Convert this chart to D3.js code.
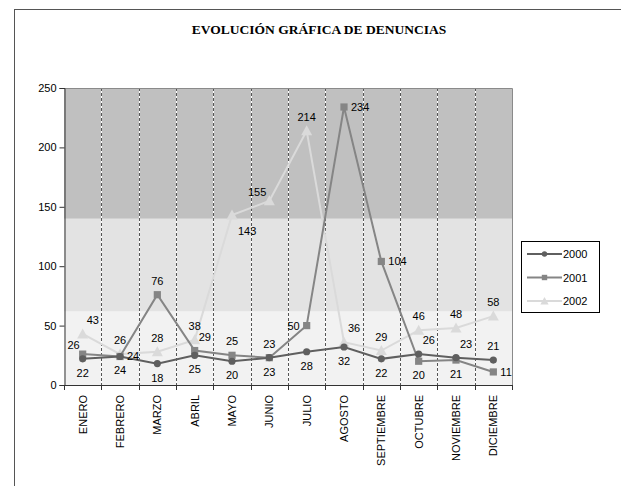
<!DOCTYPE html>
<html>
<head>
<meta charset="utf-8">
<script src="https://cdn.jsdelivr.net/npm/d3@7"></script>
<style>
  body { margin: 0; background: #fff; }
  text { font-family: "Liberation Sans", Arial, sans-serif; }
</style>
</head>
<body>
<svg id="chart" width="621" height="486"></svg>
<script>
// data
var months = ["ENERO", "FEBRERO", "MARZO", "ABRIL", "MAYO", "JUNIO", "JULIO",
              "AGOSTO", "SEPTIEMBRE", "OCTUBRE", "NOVIEMBRE", "DICIEMBRE"];
var years = ["2000", "2001", "2002"];
var v2000 = [22, 24, 18, 25, 20, 23, 28, 32, 22, 26, 23, 21];
var v2001 = [26, 24, 76, 29, 25, 23, 50, 234, 104, 20, 21, 11];
var v2002 = [43, 26, 28, 38, 143, 155, 214, 36, 29, 46, 48, 58];
var yTicks = [0, 50, 100, 150, 200, 250];
var bands = [[0, 62], [62, 140], [140, 250]];

// where each data label sits relative to its point
var place2000 = ["b", "b", "b", "b", "b", "b", "b", "b", "b", "tr", "tr", "t"];
var place2001 = ["tl", "r", "t", "tr", "t", "t", "l", "r", "r", "b", "b", "r"];
var place2002 = ["tr", "t", "t", "t", "br", "tl", "t", "tr", "t", "t", "t", "t"];

var series = [
  {name: years[0], values: v2000, place: place2000, color: "#5f5f5f", shape: "circle"},
  {name: years[1], values: v2001, place: place2001, color: "#858585", shape: "square"},
  {name: years[2], values: v2002, place: place2002, color: "#dadada", shape: "triangle"}
];

var svg = d3.select("#chart");
var pLeft = 64, pRight = 512, pTop = 88, pBottom = 385;

// chart frame (runs off the picture on right and bottom)
svg.append("rect").attr("x", 14.5).attr("y", 9.5).attr("width", 700).attr("height", 600)
  .attr("fill", "none").attr("stroke", "#555").attr("stroke-width", 1);

svg.append("text").attr("x", 319).attr("y", 34).attr("text-anchor", "middle")
  .style("font-family", "'Liberation Serif', 'Times New Roman', serif")
  .style("font-weight", "bold").style("font-size", "13.5px")
  .text("EVOLUCIÓN GRÁFICA DE DENUNCIAS");

var x = d3.scaleBand().domain(months).range([pLeft, pRight]);
var y = d3.scaleLinear().domain([0, 250]).range([pBottom, pTop]);

var bandColors = ["#f2f2f2", "#e3e3e3", "#c0c0c0"];
svg.selectAll("rect.band").data(bands).enter().append("rect")
  .attr("class", "band")
  .attr("x", pLeft).attr("width", pRight - pLeft)
  .attr("y", function(d) { return y(d[1]); })
  .attr("height", function(d) { return y(d[0]) - y(d[1]); })
  .attr("fill", function(d, i) { return bandColors[i]; });

// dashed vertical grid at category boundaries
var bounds = months.slice(1).map(function(m) { return Math.round(x(m)) + 0.5; });
svg.selectAll("line.gw").data(bounds).enter().append("line")
  .attr("x1", function(d) { return d; }).attr("x2", function(d) { return d; })
  .attr("y1", pTop).attr("y2", pBottom).attr("stroke", "#fff").attr("stroke-width", 1);
svg.selectAll("line.gd").data(bounds).enter().append("line")
  .attr("x1", function(d) { return d; }).attr("x2", function(d) { return d; })
  .attr("y1", pTop).attr("y2", pBottom).attr("stroke", "#555").attr("stroke-width", 1)
  .attr("stroke-dasharray", "3,2");

// plot area border top/right
svg.append("path").attr("d", "M" + pLeft + "," + (pTop + 0.5) + "H" + (pRight + 0.5) + "V" + pBottom)
  .attr("fill", "none").attr("stroke", "#8a8a8a").attr("stroke-width", 1);

// axes
var yAxis = d3.axisLeft(y).tickValues(yTicks).tickSize(5).tickPadding(3);
var gy = svg.append("g").attr("transform", "translate(" + (pLeft + 0.5) + ",0)").call(yAxis);
gy.selectAll("text").style("font-size", "11px").attr("fill", "#000");
gy.selectAll("line, path").attr("stroke", "#333");

var tickPos = [pLeft].concat(bounds.map(function(d) { return d - 0.5; })).concat([pRight]);
svg.append("line").attr("x1", pLeft).attr("x2", pRight + 1).attr("y1", pBottom + 0.5).attr("y2", pBottom + 0.5)
  .attr("stroke", "#333");
svg.selectAll("line.xt").data(tickPos).enter().append("line")
  .attr("x1", function(d) { return d + 0.5; }).attr("x2", function(d) { return d + 0.5; })
  .attr("y1", pBottom).attr("y2", pBottom + 5).attr("stroke", "#333");

svg.selectAll("text.xl").data(months).enter().append("text")
  .attr("transform", function(d) {
    return "translate(" + (x(d) + x.bandwidth() / 2 + 4) + "," + (pBottom + 10) + ") rotate(-90)";
  })
  .attr("text-anchor", "end").style("font-size", "11px").text(function(d) { return d; });

// lines and markers
var line = d3.line()
  .x(function(d, i) { return x(months[i]) + x.bandwidth() / 2; })
  .y(function(d) { return y(d); });

function marker(g, shape, color, cx, cy, k) {
  if (shape === "circle") {
    g.append("circle").attr("cx", cx).attr("cy", cy).attr("r", 3.6 * k).attr("fill", color);
  } else if (shape === "square") {
    g.append("rect").attr("x", cx - 3.6 * k).attr("y", cy - 3.6 * k)
      .attr("width", 7.2 * k).attr("height", 7.2 * k).attr("fill", color);
  } else {
    g.append("path").attr("d", "M" + cx + "," + (cy - 5.5 * k) + "L" + (cx + 5.5 * k) + "," + (cy + 4.5 * k) +
        "L" + (cx - 5.5 * k) + "," + (cy + 4.5 * k) + "Z")
      .attr("fill", color);
  }
}

var drawOrder = [2, 1, 0];
drawOrder.forEach(function(k) {
  var s = series[k];
  var g = svg.append("g");
  g.append("path").attr("d", line(s.values)).attr("fill", "none")
    .attr("stroke", s.color).attr("stroke-width", 2);
  s.values.forEach(function(v, i) {
    marker(g, s.shape, s.color, x(months[i]) + x.bandwidth() / 2, y(v), 1);
  });
});

// data labels
var offs = {
  t: [0, -10, "middle"], b: [0, 18, "middle"], r: [7, 4, "start"], l: [-7, 4, "end"],
  tr: [4, -10, "start"], tl: [-3, -5, "end"], br: [6, 20, "start"]
};
series.forEach(function(s) {
  svg.selectAll(null).data(s.values).enter().append("text")
    .attr("x", function(d, i) { return x(months[i]) + x.bandwidth() / 2 + offs[s.place[i]][0]; })
    .attr("y", function(d, i) { return y(d) + offs[s.place[i]][1]; })
    .attr("text-anchor", function(d, i) { return offs[s.place[i]][2]; })
    .style("font-size", "11px").attr("fill", "#000")
    .text(function(d) { return d; });
});

// legend
var lg = svg.append("g");
lg.append("rect").attr("x", 521.5).attr("y", 241.5).attr("width", 78).attr("height", 71)
  .attr("fill", "#fff").attr("stroke", "#000");
series.forEach(function(s, i) {
  var ly = 254 + i * 23.5;
  lg.append("line").attr("x1", 527).attr("x2", 562).attr("y1", ly).attr("y2", ly)
    .attr("stroke", s.color).attr("stroke-width", 2);
  marker(lg, s.shape, s.color, 544.5, ly, 0.75);
  lg.append("text").attr("x", 563).attr("y", ly + 4).style("font-size", "11px").text(s.name);
});
</script>
</body>
</html>
